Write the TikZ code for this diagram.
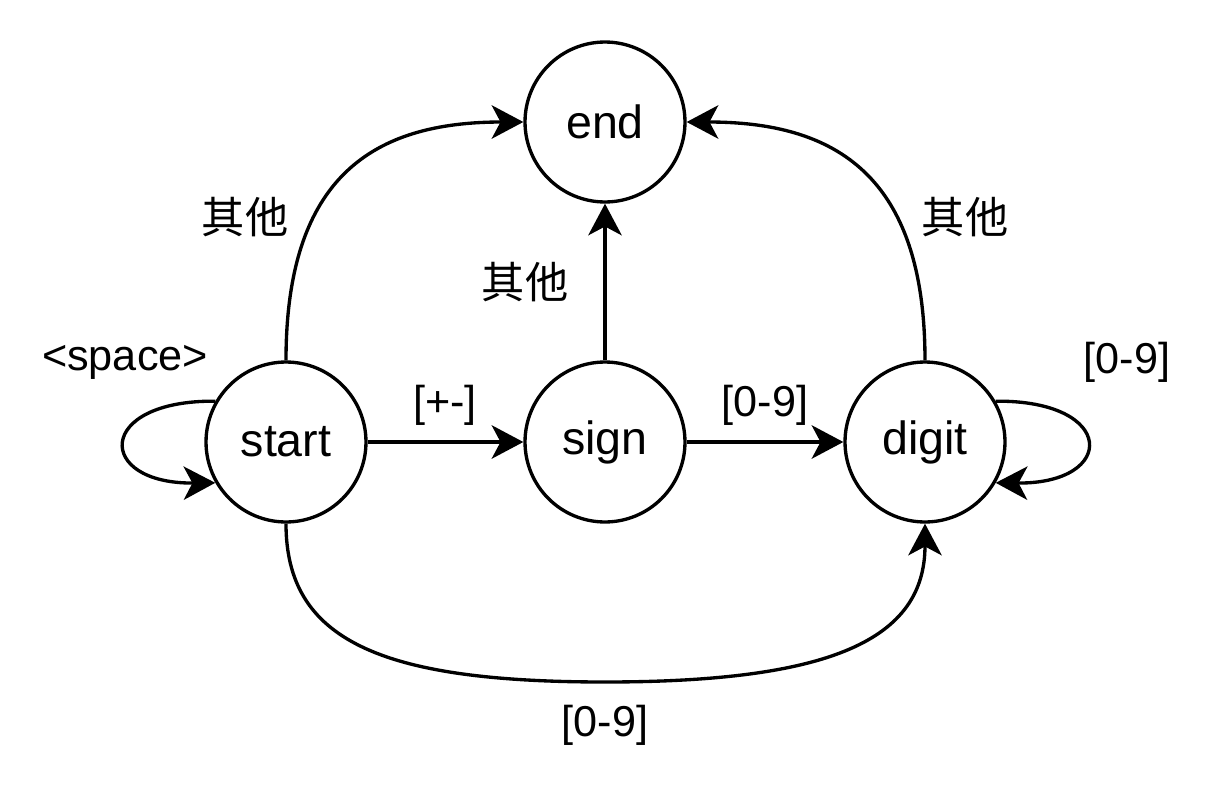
\documentclass[tikz,border=0pt]{standalone}
\usepackage{fontspec}
\setmainfont{Liberation Sans}
\newfontfamily\cjk{Noto Sans CJK SC}
\usetikzlibrary{arrows.meta}
\tikzset{
  state/.style={circle, draw=black, line width=1.9pt, minimum size=3.2cm, inner sep=0pt, fill=white,
    font=\fontsize{26.5}{30}\selectfont},
  lbl/.style={inner sep=0pt, font=\fontsize{24.6}{28}\selectfont},
  cjklbl/.style={inner sep=0pt, font=\cjk\fontsize{24.6}{28}\selectfont},
  edge/.style={line width=1.9pt, -{Stealth[length=18pt, width=19pt, inset=5pt]}}
}
\begin{document}
\begin{tikzpicture}[x=0.02cm, y=-0.02cm]
\useasboundingbox (0,0) rectangle (1208,788);
\node[state] (end) at (605,122) {end};
\node[state] (start) at (286,442) {start};
\node[state] (sign) at (605,442) {sign};
\node[state] (digit) at (925,442) {digit};

\node[cjklbl] (l1) at (245,217) {其他};
\node[cjklbl] (l2) at (965,217) {其他};
\node[cjklbl] (l3) at (525,282) {其他};
\node[lbl] (l4) at (125,362) {<space>};
\node[lbl] (l5) at (445,405) {[+-]};
\node[lbl] (l6) at (765,405) {[0-9]};
\node[lbl] (l7) at (1127,362) {[0-9]};
\node[lbl] (l8) at (605,725) {[0-9]};

\draw[edge] (start.north) .. controls (286,175) and (375,122) .. (end.west);
\draw[edge] (digit.north) .. controls (925,175) and (835,122) .. (end.east);
\draw[edge] (sign.north) -- (end.south);
\draw[edge] (start.east) -- (sign.west);
\draw[edge] (sign.east) -- (digit.west);
\draw[edge] (start.150) .. controls (95,400) and (95,484) .. (start.210);
\draw[edge] (digit.30) .. controls (1117,400) and (1117,484) .. (digit.-30);
\coordinate (bm) at (605,682);
\draw[edge] (start.south) .. controls (286,640) and (380,682) .. (bm)
  .. controls (830,682) and (925,640) .. (digit.south);
\end{tikzpicture}
\end{document}
